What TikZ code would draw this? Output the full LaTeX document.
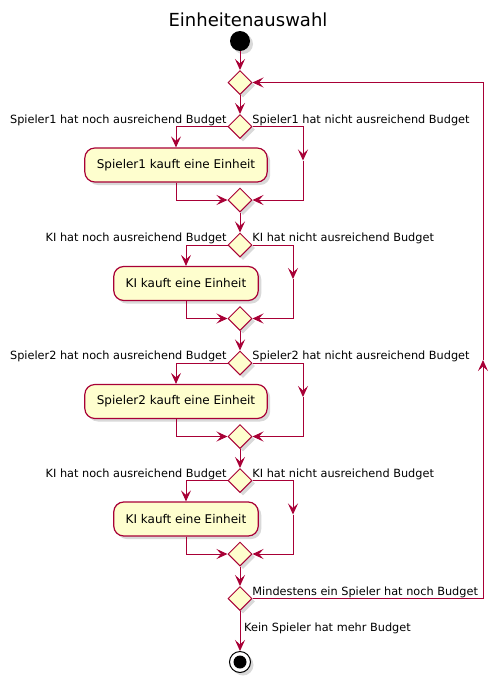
\documentclass[tikz,border=0pt]{standalone}
\usepackage{fontspec}
\setmainfont{DejaVu Sans}
\usetikzlibrary{arrows.meta,shapes.geometric,shadows,positioning}
\definecolor{umlred}{HTML}{A80036}
\definecolor{umlfill}{HTML}{FEFECE}
\tikzset{
  umlshadow/.style={drop shadow={shadow xshift=3pt,shadow yshift=-3pt,opacity=0.25,fill=black!60}},
  flow/.style={draw=umlred,line width=1pt,-{Stealth[length=11pt,width=10pt,inset=4.5pt]}},
  line/.style={draw=umlred,line width=1pt},
  merge/.style={diamond,draw=umlred,fill=umlfill,line width=1pt,minimum width=24pt,minimum height=24pt,inner sep=0pt,umlshadow},
  act/.style={rounded corners=10pt,draw=umlred,fill=umlfill,line width=1.2pt,minimum height=34pt,inner xsep=12pt,font=\fontsize{12}{14}\selectfont,umlshadow},
  lbl/.style={inner sep=1pt,font=\fontsize{11.3}{13}\selectfont}
}
\begin{document}
\begin{tikzpicture}[x=1pt,y=-1pt]
  \useasboundingbox (0,0) rectangle (497,683);
  \node[font=\fontsize{18}{20}\selectfont] (title) at (248,20) {Einheitenauswahl};
  \node[circle,fill=black,minimum size=20pt,inner sep=0pt,umlshadow] (start) at (240,41) {};
  \node[merge] (m0) at (240,82.5) {};
  \draw[flow] (start) -- (m0);
  % vier Kaufrunden
  \foreach \i/\yd/\who/\lx/\rx in {1/126.5/Spieler1/176/303,2/245/KI/186/293,3/363/Spieler2/176/303,4/480.5/KI/186/293}{
    \pgfmathtruncatemacro\j{\i-1}
    \node[merge] (d\i) at (240,\yd) {};
    \node[lbl,left=6pt of d\i.north west] (yes\i) {\who{} hat noch ausreichend Budget};
    \node[lbl,right=5pt of d\i.north east] (no\i) {\who{} hat nicht ausreichend Budget};
    \node[act] (b\i) at (\lx,\yd+38.5) {\who{} kauft eine Einheit};
    \node[merge] (m\i) at (240,\yd+73.5) {};
    \coordinate (r\i) at (\rx,\yd+34);
    \draw[flow] (m\j) -- (d\i);
    \draw[flow] (d\i.west) -| (b\i.north);
    \draw[flow] (d\i.east) -| (r\i);
    \draw[flow] (r\i) |- (m\i.east);
    \draw[flow] (b\i.south) |- (m\i.west);
  }
  \node[merge] (f) at (240,598.5) {};
  \draw[flow] (m4) -- (f);
  \node[lbl,right=5pt of f.north east] (again) {Mindestens ein Spieler hat noch Budget};
  \coordinate (up) at (483,360);
  \draw[flow] (f.east) -| (up);
  \draw[flow] (up) |- (m0.east);
  \node[circle,draw=black,fill=white,line width=1pt,minimum size=21pt,inner sep=0pt,umlshadow] (stop) at (240,662) {};
  \node[circle,fill=black,minimum size=13pt,inner sep=0pt] (stopin) at (stop) {};
  \draw[flow] (f) -- (stop);
  \node[lbl,anchor=west] (done) at (243,628) {Kein Spieler hat mehr Budget};
\end{tikzpicture}
\end{document}
